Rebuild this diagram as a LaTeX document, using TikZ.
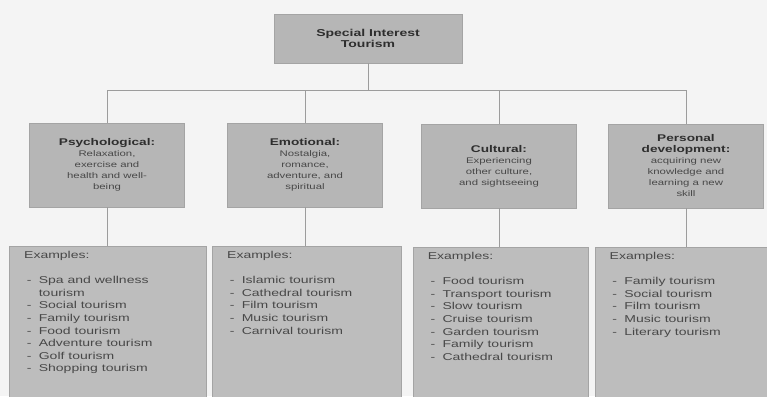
\documentclass[tikz,border=0pt]{standalone}
\usepackage{fontspec}
\setmainfont{Liberation Sans}[FakeStretch=1.4]
\usepackage{xcolor}
\usetikzlibrary{positioning}
\definecolor{boxgray}{HTML}{BDBDBD}
\definecolor{headgray}{HTML}{B6B6B6}
\definecolor{edgegray}{HTML}{A4A4A4}
\definecolor{linegray}{HTML}{9C9C9C}
\definecolor{paper}{HTML}{F4F4F4}
\definecolor{inkdark}{HTML}{2E2E2E}
\definecolor{inklight}{HTML}{484848}
\tikzset{
  topic/.style={rectangle, draw=edgegray, fill=headgray, minimum width=141pt, minimum height=36.75pt, align=center, text=inkdark, font=\fontsize{7.5}{8}\selectfont\bfseries},
  category/.style={rectangle, draw=edgegray, fill=headgray, minimum width=116.25pt, minimum height=63pt, align=center, text=inklight, font=\fontsize{6.1}{8.25}\selectfont},
  examples/.style={rectangle, draw=edgegray, fill=boxgray, anchor=north, inner xsep=11pt, inner ysep=4pt, text=inklight, font=\fontsize{7.5}{9.4}\selectfont},
  link/.style={draw=linegray, line width=0.75pt}
}
\newcommand{\catname}[1]{{\fontsize{7.3}{8.25}\selectfont\bfseries\color{inkdark}#1}}
\newcommand{\exhead}{Examples:\par\vspace{9.4pt}}
\newcommand{\exitem}[1]{\par\hspace*{2pt}\makebox[9pt][l]{-}#1}

\begin{document}
\begin{tikzpicture}[x=0.75pt, y=-0.75pt]
  \path[use as bounding box] (0,0) rectangle (767,396);
  \clip (0,0) rectangle (767,396);
  \fill[paper] (0,0) rectangle (767,396);

  % root
  \node[topic] (sit) at (368,38.5) {Special Interest\\Tourism};

  % motivations
  \node[category] (psy) at (107,165) {\catname{Psychological:}\\Relaxation,\\exercise and\\health and well-\\being};
  \node[category] (emo) at (305,165) {\catname{Emotional:}\\Nostalgia,\\romance,\\adventure, and\\spiritual};
  \node[category] (cul) at (499,166) {\catname{Cultural:}\\Experiencing\\other culture,\\and sightseeing};
  \node[category] (per) at (686,166) {\catname{Personal}\\\catname{development:}\\acquiring new\\knowledge and\\learning a new\\skill};

  % examples
  \node[examples, minimum width=147.75pt] (ex1) at (107.5,246) {\parbox[t][110pt][t]{125pt}{\exhead
    \exitem{Spa and wellness}\par\hspace*{11pt}tourism
    \exitem{Social tourism}
    \exitem{Family tourism}
    \exitem{Food tourism}
    \exitem{Adventure tourism}
    \exitem{Golf tourism}
    \exitem{Shopping tourism}}};
  \node[examples, minimum width=141.75pt] (ex2) at (306.5,246) {\parbox[t][110pt][t]{119pt}{\exhead
    \exitem{Islamic tourism}
    \exitem{Cathedral tourism}
    \exitem{Film tourism}
    \exitem{Music tourism}
    \exitem{Carnival tourism}}};
  \node[examples, minimum width=131.25pt] (ex3) at (500.5,247) {\parbox[t][110pt][t]{109pt}{\exhead
    \exitem{Food tourism}
    \exitem{Transport tourism}
    \exitem{Slow tourism}
    \exitem{Cruise tourism}
    \exitem{Garden tourism}
    \exitem{Family tourism}
    \exitem{Cathedral tourism}}};
  \node[examples, minimum width=135pt] (ex4) at (685,247) {\parbox[t][110pt][t]{113pt}{\exhead
    \exitem{Family tourism}
    \exitem{Social tourism}
    \exitem{Film tourism}
    \exitem{Music tourism}
    \exitem{Literary tourism}}};

  % tree lines
  \coordinate (bus) at (368,90);
  \draw[link] (sit.south) -- (bus);
  \draw[link] (psy.north) |- (bus);
  \draw[link] (emo.north) |- (bus);
  \draw[link] (cul.north) |- (bus);
  \draw[link] (per.north) |- (bus);
  \draw[link] (psy.south) -- (psy.south |- ex1.north);
  \draw[link] (emo.south) -- (emo.south |- ex2.north);
  \draw[link] (cul.south) -- (cul.south |- ex3.north);
  \draw[link] (per.south) -- (per.south |- ex4.north);
\end{tikzpicture}
\end{document}
